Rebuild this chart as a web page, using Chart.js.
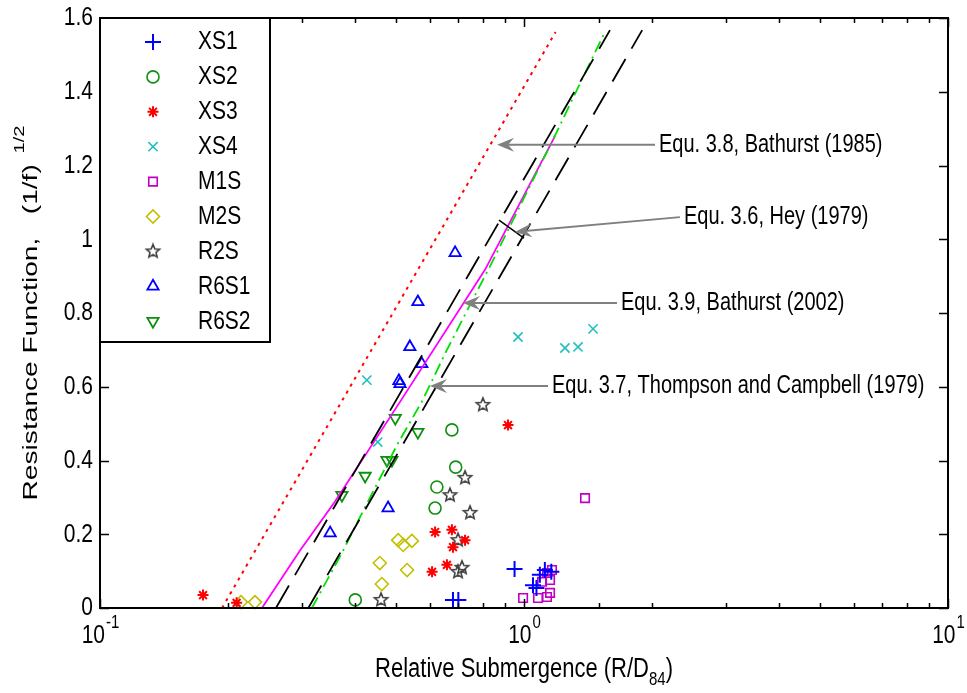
<!DOCTYPE html>
<html>
<head>
<meta charset="utf-8">
<script src="https://cdn.jsdelivr.net/npm/chart.js@4.4.1/dist/chart.umd.min.js"></script>
<style>
  html, body { margin: 0; padding: 0; background: #fff; }
  #wrap { width: 967px; height: 693px; }
</style>
</head>
<body>
<div id="wrap"><canvas id="chart" width="967" height="693"></canvas></div>
<script>
// Relative submergence R/D84 (x) against resistance function (1/f)^1/2 (y)
const xs1X = [0.68, 0.70, 0.95, 1.05, 1.07, 1.09, 1.12, 1.16];
const xs1Y = [0.022, 0.022, 0.106, 0.062, 0.054, 0.090, 0.103, 0.098];

const xs2X = [0.40, 0.676, 0.69, 0.623, 0.617];
const xs2Y = [0.022, 0.483, 0.382, 0.328, 0.271];

const xs3X = [0.175, 0.210, 0.617, 0.676, 0.726, 0.680, 0.607, 0.658, 0.917];
const xs3Y = [0.035, 0.014, 0.206, 0.212, 0.184, 0.165, 0.098, 0.117, 0.496];

const xs4X = [0.426, 0.452, 0.968, 1.249, 1.341, 1.455];
const xs4Y = [0.618, 0.450, 0.735, 0.705, 0.708, 0.757];

const m1sX = [1.393, 0.995, 1.079, 1.133, 1.152, 1.103, 1.152, 1.164, 1.133];
const m1sY = [0.298, 0.027, 0.027, 0.030, 0.041, 0.071, 0.076, 0.103, 0.095];

const m2sX = [0.215, 0.232, 0.457, 0.462, 0.505, 0.519, 0.544, 0.530];
const m2sY = [0.016, 0.016, 0.122, 0.065, 0.184, 0.171, 0.182, 0.103];

const r2sX = [0.460, 0.800, 0.726, 0.669, 0.746, 0.699, 0.714, 0.699];
const r2sY = [0.022, 0.551, 0.353, 0.306, 0.258, 0.184, 0.109, 0.098];

const r6s1X = [0.688, 0.562, 0.538, 0.574, 0.510, 0.507, 0.478, 0.349];
const r6s1Y = [0.963, 0.830, 0.708, 0.662, 0.608, 0.616, 0.271, 0.203];

const r6s2X = [0.497, 0.562, 0.475, 0.488, 0.422, 0.372];
const r6s2Y = [0.515, 0.477, 0.401, 0.401, 0.358, 0.306];

// Flow resistance equations
const bathurst85X = [0.194, 1.187];
const bathurst85Y = [0, 1.562];

const heyUpperX = [0.26, 1.595];
const heyUpperY = [0, 1.567];
const heyLowerX = [0.31, 1.90];
const heyLowerY = [0, 1.567];
const heyBarX = [0.873, 1.0];
const heyBarY = [1.052, 1.003];

const bathurst02X = [0.241, 0.296, 0.358, 0.510, 0.809, 1.170, 1.183];
const bathurst02Y = [0, 0.155, 0.288, 0.559, 0.917, 1.269, 1.28];

const thompsonX = [0.316, 0.372, 0.422, 0.505, 0.574, 0.658, 0.746, 0.841, 1.05, 1.17, 1.305, 1.544];
const thompsonY = [0, 0.149, 0.274, 0.448, 0.559, 0.700, 0.822, 0.938, 1.161, 1.269, 1.383, 1.557];

// Arrow notes: text, arrow tip and tail in data units
const noteText = ['Equ. 3.8, Bathurst (1985)', 'Equ. 3.6, Hey (1979)', 'Equ. 3.9, Bathurst (2002)', 'Equ. 3.7, Thompson and Campbell (1979)'];
const noteTipX = [0.864, 0.952, 0.718, 0.600];
const noteTipY = [1.256, 1.020, 0.827, 0.602];
const noteTailX = [2.037, 2.332, 1.657, 1.139];
const noteTailY = [1.256, 1.060, 0.827, 0.602];

const FONT = '"Liberation Sans", Arial, Helvetica, sans-serif';
// the figure's lettering is taller than it is wide
const STRETCH = 1.27;

function pairs(xs, ys) {
    return xs.map(function (x, i) { return { x: x, y: ys[i] }; });
}

// outlined pentagram used for R2S
function starMarker(color, r) {
    const c = document.createElement('canvas');
    const s = Math.ceil(r * 2 + 4);
    c.width = s; c.height = s;
    const g = c.getContext('2d');
    g.strokeStyle = color;
    g.lineWidth = 1.6;
    g.beginPath();
    for (let i = 0; i < 10; i++) {
        const a = -Math.PI / 2 + i * Math.PI / 5;
        const rr = i % 2 ? r * 0.45 : r;
        g.lineTo(s / 2 + rr * Math.cos(a), s / 2 + rr * Math.sin(a));
    }
    g.closePath();
    g.stroke();
    return c;
}

const markers = [
    { label: 'XS1', x: xs1X, y: xs1Y, style: 'cross', color: '#0000ff', r: 8, w: 2 },
    { label: 'XS2', x: xs2X, y: xs2Y, style: 'circle', color: '#109010', r: 6, w: 1.6 },
    { label: 'XS3', x: xs3X, y: xs3Y, style: 'star', color: '#ff0000', r: 5.5, w: 2 },
    { label: 'XS4', x: xs4X, y: xs4Y, style: 'crossRot', color: '#20c0c0', r: 6.5, w: 1.6 },
    { label: 'M1S', x: m1sX, y: m1sY, style: 'rect', color: '#c000c0', r: 6, w: 1.6 },
    { label: 'M2S', x: m2sX, y: m2sY, style: 'rectRot', color: '#c0c000', r: 6.5, w: 1.6 },
    { label: 'R2S', x: r2sX, y: r2sY, style: starMarker('#404040', 7), color: '#404040', r: 7, w: 1.6 },
    { label: 'R6S1', x: r6s1X, y: r6s1Y, style: 'triangle', color: '#0000ff', r: 6.5, w: 1.8 },
    { label: 'R6S2', x: r6s2X, y: r6s2Y, style: 'triangle', color: '#109010', r: 6.5, w: 1.8, rot: 180 }
];

const datasets = [];

function curve(xs, ys, color, width, dash) {
    datasets.push({
        type: 'line',
        data: pairs(xs, ys),
        borderColor: color,
        borderWidth: width,
        borderDash: dash,
        pointRadius: 0,
        fill: false,
        tension: 0
    });
}

curve(bathurst85X, bathurst85Y, '#ff0000', 2, [3, 5]);
curve(heyUpperX, heyUpperY, '#000000', 1.8, [26, 12]);
curve(heyLowerX, heyLowerY, '#000000', 1.8, [26, 12]);
curve(heyBarX, heyBarY, '#000000', 1.5, []);
curve(thompsonX, thompsonY, '#00e000', 1.8, [12, 5, 2, 5]);
curve(bathurst02X, bathurst02Y, '#ff00ff', 1.8, []);

markers.forEach(function (m) {
    datasets.push({
        label: m.label,
        data: pairs(m.x, m.y),
        pointStyle: m.style,
        pointRadius: m.r,
        pointBorderColor: m.color,
        pointBackgroundColor: 'rgba(0,0,0,0)',
        pointBorderWidth: m.w,
        pointRotation: m.rot || 0,
        showLine: false,
        clip: false
    });
});

function text(ctx, str, x, y, size, align) {
    ctx.save();
    ctx.translate(x, y);
    ctx.scale(1, STRETCH);
    ctx.font = size + 'px ' + FONT;
    ctx.textAlign = align || 'left';
    ctx.textBaseline = 'middle';
    ctx.fillText(str, 0, 0);
    ctx.restore();
}

function width(ctx, str, size) {
    ctx.font = size + 'px ' + FONT;
    return ctx.measureText(str).width;
}

// "10" with a raised exponent, centred as a whole on x
function powerLabel(ctx, exp, x, y) {
    const wb = width(ctx, '10', 21);
    const we = width(ctx, exp, 15);
    const left = x - (wb + we) / 2;
    text(ctx, '10', left, y, 21, 'left');
    text(ctx, exp, left + wb + 1, y - 13, 15, 'left');
}

const decor = {
    id: 'decor',
    afterDatasetsDraw: function (chart) {
        const ctx = chart.ctx;
        const a = chart.chartArea;
        const xs = chart.scales.x;
        const ys = chart.scales.y;
        ctx.save();

        // frame
        ctx.strokeStyle = '#000';
        ctx.lineWidth = 2;
        ctx.strokeRect(a.left, a.top, a.right - a.left, a.bottom - a.top);

        // inward ticks on all four sides
        ctx.lineWidth = 1.5;
        ctx.beginPath();
        xs.ticks.forEach(function (t) {
            const px = Math.round(xs.getPixelForValue(t.value)) + 0.5;
            const major = Math.abs(Math.log10(t.value) - Math.round(Math.log10(t.value))) < 1e-6;
            const len = major ? 9 : 5;
            ctx.moveTo(px, a.bottom); ctx.lineTo(px, a.bottom - len);
            ctx.moveTo(px, a.top); ctx.lineTo(px, a.top + len);
        });
        ys.ticks.forEach(function (t) {
            const py = Math.round(ys.getPixelForValue(t.value)) + 0.5;
            ctx.moveTo(a.left, py); ctx.lineTo(a.left + 9, py);
            ctx.moveTo(a.right, py); ctx.lineTo(a.right - 9, py);
        });
        ctx.stroke();

        // tick labels
        ctx.fillStyle = '#000';
        ys.ticks.forEach(function (t) {
            const v = Math.round(t.value * 10) / 10;
            text(ctx, String(v), a.left - 7, ys.getPixelForValue(t.value), 21, 'right');
        });
        xs.ticks.forEach(function (t) {
            const e = Math.log10(t.value);
            if (Math.abs(e - Math.round(e)) < 1e-6) {
                powerLabel(ctx, String(Math.round(e)), xs.getPixelForValue(t.value), a.bottom + 28);
            }
        });

        // x title with subscript
        const cx = (a.left + a.right) / 2;
        const main = 'Relative Submergence (R/D';
        const w1 = width(ctx, main, 22);
        const w2 = width(ctx, '84', 15);
        const w3 = width(ctx, ')', 22);
        let left = cx - (w1 + w2 + w3) / 2;
        const ty = a.bottom + 61;
        text(ctx, main, left, ty, 22, 'left');
        text(ctx, '84', left + w1, ty + 11, 15, 'left');
        text(ctx, ')', left + w1 + w2, ty, 22, 'left');

        // y title with superscript, lengthened along its reading direction
        ctx.save();
        ctx.translate(31, (a.top + a.bottom) / 2);
        ctx.rotate(-Math.PI / 2);
        ctx.scale(1.34, 1 / STRETCH);
        const yt = 'Resistance Function,   (1/f)';
        const yw1 = width(ctx, yt, 21);
        const yw2 = width(ctx, '1/2', 15);
        left = -(yw1 + yw2 + 8) / 2;
        text(ctx, yt, left, 0, 21, 'left');
        text(ctx, '1/2', left + yw1 + 8, -11 * STRETCH, 15, 'left');
        ctx.restore();

        // arrow notes
        noteText.forEach(function (s, i) {
            const tx = xs.getPixelForValue(noteTipX[i]);
            const ty2 = ys.getPixelForValue(noteTipY[i]);
            const sx = xs.getPixelForValue(noteTailX[i]);
            const sy = ys.getPixelForValue(noteTailY[i]);
            const dx = sx - tx, dy = sy - ty2;
            const d = Math.sqrt(dx * dx + dy * dy);
            const ux = dx / d, uy = dy / d;
            const nx = -uy, ny = ux;
            ctx.strokeStyle = '#808080';
            ctx.fillStyle = '#808080';
            ctx.lineWidth = 2;
            ctx.beginPath();
            ctx.moveTo(sx, sy);
            ctx.lineTo(tx + ux * 10, ty2 + uy * 10);
            ctx.stroke();
            ctx.beginPath();
            ctx.moveTo(tx, ty2);
            ctx.lineTo(tx + ux * 17 + nx * 7, ty2 + uy * 17 + ny * 7);
            ctx.lineTo(tx + ux * 11, ty2 + uy * 11);
            ctx.lineTo(tx + ux * 17 - nx * 7, ty2 + uy * 17 - ny * 7);
            ctx.closePath();
            ctx.fill();
            ctx.fillStyle = '#000';
            text(ctx, s, sx + 4, sy, 20, 'left');
        });

        // legend box
        const lx = a.left, ly = a.top, lw = 170, lh = 324;
        ctx.fillStyle = '#fff';
        ctx.fillRect(lx, ly, lw, lh);
        ctx.strokeStyle = '#000';
        ctx.lineWidth = 2;
        ctx.strokeRect(lx, ly, lw, lh);
        markers.forEach(function (m, i) {
            const rowY = ly + 24 + i * 34.9;
            ctx.strokeStyle = m.color;
            ctx.fillStyle = 'rgba(0,0,0,0)';
            ctx.lineWidth = m.w;
            Chart.helpers.drawPoint(ctx, {
                pointStyle: m.style,
                radius: m.r,
                rotation: m.rot || 0,
                borderWidth: m.w
            }, lx + 53, rowY);
            ctx.fillStyle = '#000';
            text(ctx, m.label, lx + 98, rowY, 21, 'left');
        });

        ctx.restore();
    }
};

const chart = new Chart(document.getElementById('chart').getContext('2d'), {
    type: 'scatter',
    data: { datasets: datasets },
    options: {
        responsive: false,
        animation: false,
        layout: { padding: { top: 18, right: 19, left: 0, bottom: 0 } },
        plugins: {
            legend: { display: false },
            tooltip: { enabled: false }
        },
        scales: {
            x: {
                type: 'logarithmic',
                min: 0.1,
                max: 10,
                grid: { display: false },
                border: { display: false },
                ticks: { display: false },
                afterFit: function (s) { s.height = 85; }
            },
            y: {
                min: 0,
                max: 1.6,
                grid: { display: false },
                border: { display: false },
                ticks: { display: false, stepSize: 0.2 },
                afterFit: function (s) { s.width = 100; }
            }
        }
    },
    plugins: [decor]
});
</script>
</body>
</html>
